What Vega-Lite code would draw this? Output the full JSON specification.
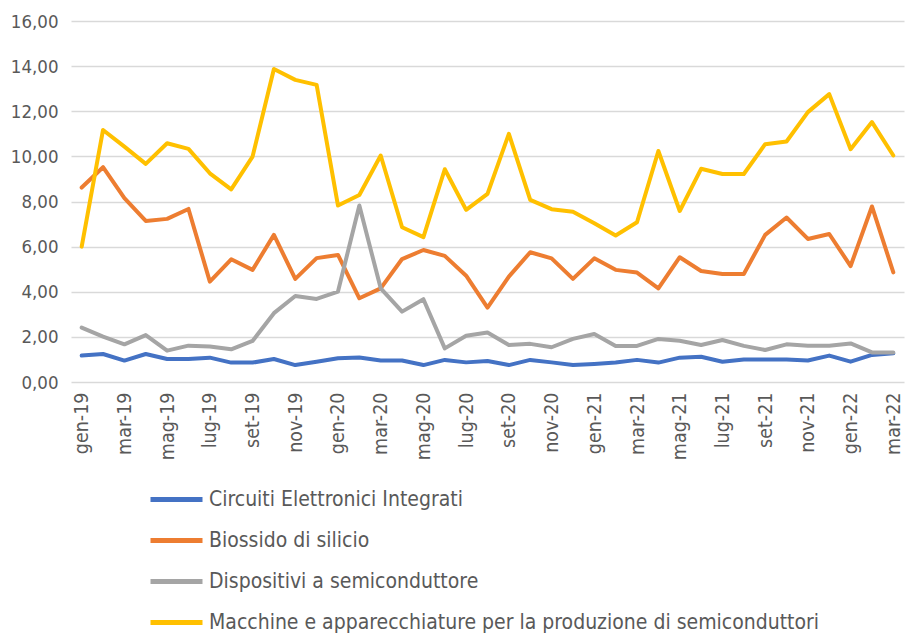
{
  "$schema": "https://vega.github.io/schema/vega-lite/v6.json",
  "width": 833,
  "height": 361,
  "autosize": "none",
  "padding": {"left": 71, "top": 21, "right": 3, "bottom": 251},
  "background": "white",
  "config": {
    "view": {"stroke": null},
    "font": "DejaVu Sans Condensed"
  },
  "data": {"values": [
    {"mese":"gen-19","serie":"Circuiti Elettronici Integrati","valore":1.17},
    {"mese":"feb-19","serie":"Circuiti Elettronici Integrati","valore":1.24},
    {"mese":"mar-19","serie":"Circuiti Elettronici Integrati","valore":0.95},
    {"mese":"apr-19","serie":"Circuiti Elettronici Integrati","valore":1.24},
    {"mese":"mag-19","serie":"Circuiti Elettronici Integrati","valore":1.02},
    {"mese":"giu-19","serie":"Circuiti Elettronici Integrati","valore":1.02},
    {"mese":"lug-19","serie":"Circuiti Elettronici Integrati","valore":1.08},
    {"mese":"ago-19","serie":"Circuiti Elettronici Integrati","valore":0.86},
    {"mese":"set-19","serie":"Circuiti Elettronici Integrati","valore":0.86},
    {"mese":"ott-19","serie":"Circuiti Elettronici Integrati","valore":1.02},
    {"mese":"nov-19","serie":"Circuiti Elettronici Integrati","valore":0.75},
    {"mese":"dic-19","serie":"Circuiti Elettronici Integrati","valore":0.90},
    {"mese":"gen-20","serie":"Circuiti Elettronici Integrati","valore":1.05},
    {"mese":"feb-20","serie":"Circuiti Elettronici Integrati","valore":1.09},
    {"mese":"mar-20","serie":"Circuiti Elettronici Integrati","valore":0.95},
    {"mese":"apr-20","serie":"Circuiti Elettronici Integrati","valore":0.95},
    {"mese":"mag-20","serie":"Circuiti Elettronici Integrati","valore":0.75},
    {"mese":"giu-20","serie":"Circuiti Elettronici Integrati","valore":0.98},
    {"mese":"lug-20","serie":"Circuiti Elettronici Integrati","valore":0.87},
    {"mese":"ago-20","serie":"Circuiti Elettronici Integrati","valore":0.93},
    {"mese":"set-20","serie":"Circuiti Elettronici Integrati","valore":0.75},
    {"mese":"ott-20","serie":"Circuiti Elettronici Integrati","valore":0.98},
    {"mese":"nov-20","serie":"Circuiti Elettronici Integrati","valore":0.87},
    {"mese":"dic-20","serie":"Circuiti Elettronici Integrati","valore":0.75},
    {"mese":"gen-21","serie":"Circuiti Elettronici Integrati","valore":0.80},
    {"mese":"feb-21","serie":"Circuiti Elettronici Integrati","valore":0.86},
    {"mese":"mar-21","serie":"Circuiti Elettronici Integrati","valore":0.98},
    {"mese":"apr-21","serie":"Circuiti Elettronici Integrati","valore":0.86},
    {"mese":"mag-21","serie":"Circuiti Elettronici Integrati","valore":1.08},
    {"mese":"giu-21","serie":"Circuiti Elettronici Integrati","valore":1.12},
    {"mese":"lug-21","serie":"Circuiti Elettronici Integrati","valore":0.90},
    {"mese":"ago-21","serie":"Circuiti Elettronici Integrati","valore":1.00},
    {"mese":"set-21","serie":"Circuiti Elettronici Integrati","valore":1.00},
    {"mese":"ott-21","serie":"Circuiti Elettronici Integrati","valore":1.00},
    {"mese":"nov-21","serie":"Circuiti Elettronici Integrati","valore":0.95},
    {"mese":"dic-21","serie":"Circuiti Elettronici Integrati","valore":1.17},
    {"mese":"gen-22","serie":"Circuiti Elettronici Integrati","valore":0.90},
    {"mese":"feb-22","serie":"Circuiti Elettronici Integrati","valore":1.20},
    {"mese":"mar-22","serie":"Circuiti Elettronici Integrati","valore":1.27},
    {"mese":"gen-19","serie":"Biossido di silicio","valore":8.62},
    {"mese":"feb-19","serie":"Biossido di silicio","valore":9.52},
    {"mese":"mar-19","serie":"Biossido di silicio","valore":8.15},
    {"mese":"apr-19","serie":"Biossido di silicio","valore":7.14},
    {"mese":"mag-19","serie":"Biossido di silicio","valore":7.23},
    {"mese":"giu-19","serie":"Biossido di silicio","valore":7.67},
    {"mese":"lug-19","serie":"Biossido di silicio","valore":4.45},
    {"mese":"ago-19","serie":"Biossido di silicio","valore":5.44},
    {"mese":"set-19","serie":"Biossido di silicio","valore":4.97},
    {"mese":"ott-19","serie":"Biossido di silicio","valore":6.52},
    {"mese":"nov-19","serie":"Biossido di silicio","valore":4.57},
    {"mese":"dic-19","serie":"Biossido di silicio","valore":5.49},
    {"mese":"gen-20","serie":"Biossido di silicio","valore":5.63},
    {"mese":"feb-20","serie":"Biossido di silicio","valore":3.71},
    {"mese":"mar-20","serie":"Biossido di silicio","valore":4.15},
    {"mese":"apr-20","serie":"Biossido di silicio","valore":5.45},
    {"mese":"mag-20","serie":"Biossido di silicio","valore":5.85},
    {"mese":"giu-20","serie":"Biossido di silicio","valore":5.59},
    {"mese":"lug-20","serie":"Biossido di silicio","valore":4.71},
    {"mese":"ago-20","serie":"Biossido di silicio","valore":3.30},
    {"mese":"set-20","serie":"Biossido di silicio","valore":4.67},
    {"mese":"ott-20","serie":"Biossido di silicio","valore":5.75},
    {"mese":"nov-20","serie":"Biossido di silicio","valore":5.48},
    {"mese":"dic-20","serie":"Biossido di silicio","valore":4.57},
    {"mese":"gen-21","serie":"Biossido di silicio","valore":5.48},
    {"mese":"feb-21","serie":"Biossido di silicio","valore":4.97},
    {"mese":"mar-21","serie":"Biossido di silicio","valore":4.85},
    {"mese":"apr-21","serie":"Biossido di silicio","valore":4.15},
    {"mese":"mag-21","serie":"Biossido di silicio","valore":5.53},
    {"mese":"giu-21","serie":"Biossido di silicio","valore":4.92},
    {"mese":"lug-21","serie":"Biossido di silicio","valore":4.79},
    {"mese":"ago-21","serie":"Biossido di silicio","valore":4.79},
    {"mese":"set-21","serie":"Biossido di silicio","valore":6.52},
    {"mese":"ott-21","serie":"Biossido di silicio","valore":7.29},
    {"mese":"nov-21","serie":"Biossido di silicio","valore":6.34},
    {"mese":"dic-21","serie":"Biossido di silicio","valore":6.56},
    {"mese":"gen-22","serie":"Biossido di silicio","valore":5.14},
    {"mese":"feb-22","serie":"Biossido di silicio","valore":7.78},
    {"mese":"mar-22","serie":"Biossido di silicio","valore":4.86},
    {"mese":"gen-19","serie":"Dispositivi a semiconduttore","valore":2.41},
    {"mese":"feb-19","serie":"Dispositivi a semiconduttore","valore":2.01},
    {"mese":"mar-19","serie":"Dispositivi a semiconduttore","valore":1.67},
    {"mese":"apr-19","serie":"Dispositivi a semiconduttore","valore":2.08},
    {"mese":"mag-19","serie":"Dispositivi a semiconduttore","valore":1.39},
    {"mese":"giu-19","serie":"Dispositivi a semiconduttore","valore":1.61},
    {"mese":"lug-19","serie":"Dispositivi a semiconduttore","valore":1.57},
    {"mese":"ago-19","serie":"Dispositivi a semiconduttore","valore":1.45},
    {"mese":"set-19","serie":"Dispositivi a semiconduttore","valore":1.82},
    {"mese":"ott-19","serie":"Dispositivi a semiconduttore","valore":3.05},
    {"mese":"nov-19","serie":"Dispositivi a semiconduttore","valore":3.81},
    {"mese":"dic-19","serie":"Dispositivi a semiconduttore","valore":3.68},
    {"mese":"gen-20","serie":"Dispositivi a semiconduttore","valore":4.01},
    {"mese":"feb-20","serie":"Dispositivi a semiconduttore","valore":7.82},
    {"mese":"mar-20","serie":"Dispositivi a semiconduttore","valore":4.15},
    {"mese":"apr-20","serie":"Dispositivi a semiconduttore","valore":3.12},
    {"mese":"mag-20","serie":"Dispositivi a semiconduttore","valore":3.67},
    {"mese":"giu-20","serie":"Dispositivi a semiconduttore","valore":1.49},
    {"mese":"lug-20","serie":"Dispositivi a semiconduttore","valore":2.05},
    {"mese":"ago-20","serie":"Dispositivi a semiconduttore","valore":2.19},
    {"mese":"set-20","serie":"Dispositivi a semiconduttore","valore":1.64},
    {"mese":"ott-20","serie":"Dispositivi a semiconduttore","valore":1.69},
    {"mese":"nov-20","serie":"Dispositivi a semiconduttore","valore":1.54},
    {"mese":"dic-20","serie":"Dispositivi a semiconduttore","valore":1.91},
    {"mese":"gen-21","serie":"Dispositivi a semiconduttore","valore":2.13},
    {"mese":"feb-21","serie":"Dispositivi a semiconduttore","valore":1.60},
    {"mese":"mar-21","serie":"Dispositivi a semiconduttore","valore":1.60},
    {"mese":"apr-21","serie":"Dispositivi a semiconduttore","valore":1.91},
    {"mese":"mag-21","serie":"Dispositivi a semiconduttore","valore":1.83},
    {"mese":"giu-21","serie":"Dispositivi a semiconduttore","valore":1.64},
    {"mese":"lug-21","serie":"Dispositivi a semiconduttore","valore":1.86},
    {"mese":"ago-21","serie":"Dispositivi a semiconduttore","valore":1.60},
    {"mese":"set-21","serie":"Dispositivi a semiconduttore","valore":1.42},
    {"mese":"ott-21","serie":"Dispositivi a semiconduttore","valore":1.67},
    {"mese":"nov-21","serie":"Dispositivi a semiconduttore","valore":1.61},
    {"mese":"dic-21","serie":"Dispositivi a semiconduttore","valore":1.61},
    {"mese":"gen-22","serie":"Dispositivi a semiconduttore","valore":1.71},
    {"mese":"feb-22","serie":"Dispositivi a semiconduttore","valore":1.31},
    {"mese":"mar-22","serie":"Dispositivi a semiconduttore","valore":1.31},
    {"mese":"gen-19","serie":"Macchine e apparecchiature per la produzione di semiconduttori","valore":6.00},
    {"mese":"feb-19","serie":"Macchine e apparecchiature per la produzione di semiconduttori","valore":11.17},
    {"mese":"mar-19","serie":"Macchine e apparecchiature per la produzione di semiconduttori","valore":10.43},
    {"mese":"apr-19","serie":"Macchine e apparecchiature per la produzione di semiconduttori","valore":9.67},
    {"mese":"mag-19","serie":"Macchine e apparecchiature per la produzione di semiconduttori","valore":10.58},
    {"mese":"giu-19","serie":"Macchine e apparecchiature per la produzione di semiconduttori","valore":10.33},
    {"mese":"lug-19","serie":"Macchine e apparecchiature per la produzione di semiconduttori","valore":9.25},
    {"mese":"ago-19","serie":"Macchine e apparecchiature per la produzione di semiconduttori","valore":8.54},
    {"mese":"set-19","serie":"Macchine e apparecchiature per la produzione di semiconduttori","valore":9.99},
    {"mese":"ott-19","serie":"Macchine e apparecchiature per la produzione di semiconduttori","valore":13.87},
    {"mese":"nov-19","serie":"Macchine e apparecchiature per la produzione di semiconduttori","valore":13.39},
    {"mese":"dic-19","serie":"Macchine e apparecchiature per la produzione di semiconduttori","valore":13.17},
    {"mese":"gen-20","serie":"Macchine e apparecchiature per la produzione di semiconduttori","valore":7.82},
    {"mese":"feb-20","serie":"Macchine e apparecchiature per la produzione di semiconduttori","valore":8.29},
    {"mese":"mar-20","serie":"Macchine e apparecchiature per la produzione di semiconduttori","valore":10.04},
    {"mese":"apr-20","serie":"Macchine e apparecchiature per la produzione di semiconduttori","valore":6.86},
    {"mese":"mag-20","serie":"Macchine e apparecchiature per la produzione di semiconduttori","valore":6.42},
    {"mese":"giu-20","serie":"Macchine e apparecchiature per la produzione di semiconduttori","valore":9.43},
    {"mese":"lug-20","serie":"Macchine e apparecchiature per la produzione di semiconduttori","valore":7.63},
    {"mese":"ago-20","serie":"Macchine e apparecchiature per la produzione di semiconduttori","valore":8.34},
    {"mese":"set-20","serie":"Macchine e apparecchiature per la produzione di semiconduttori","valore":11.00},
    {"mese":"ott-20","serie":"Macchine e apparecchiature per la produzione di semiconduttori","valore":8.07},
    {"mese":"nov-20","serie":"Macchine e apparecchiature per la produzione di semiconduttori","valore":7.66},
    {"mese":"dic-20","serie":"Macchine e apparecchiature per la produzione di semiconduttori","valore":7.55},
    {"mese":"gen-21","serie":"Macchine e apparecchiature per la produzione di semiconduttori","valore":7.04},
    {"mese":"feb-21","serie":"Macchine e apparecchiature per la produzione di semiconduttori","valore":6.49},
    {"mese":"mar-21","serie":"Macchine e apparecchiature per la produzione di semiconduttori","valore":7.08},
    {"mese":"apr-21","serie":"Macchine e apparecchiature per la produzione di semiconduttori","valore":10.24},
    {"mese":"mag-21","serie":"Macchine e apparecchiature per la produzione di semiconduttori","valore":7.58},
    {"mese":"giu-21","serie":"Macchine e apparecchiature per la produzione di semiconduttori","valore":9.45},
    {"mese":"lug-21","serie":"Macchine e apparecchiature per la produzione di semiconduttori","valore":9.22},
    {"mese":"ago-21","serie":"Macchine e apparecchiature per la produzione di semiconduttori","valore":9.22},
    {"mese":"set-21","serie":"Macchine e apparecchiature per la produzione di semiconduttori","valore":10.54},
    {"mese":"ott-21","serie":"Macchine e apparecchiature per la produzione di semiconduttori","valore":10.66},
    {"mese":"nov-21","serie":"Macchine e apparecchiature per la produzione di semiconduttori","valore":11.96},
    {"mese":"dic-21","serie":"Macchine e apparecchiature per la produzione di semiconduttori","valore":12.76},
    {"mese":"gen-22","serie":"Macchine e apparecchiature per la produzione di semiconduttori","valore":10.32},
    {"mese":"feb-22","serie":"Macchine e apparecchiature per la produzione di semiconduttori","valore":11.52},
    {"mese":"mar-22","serie":"Macchine e apparecchiature per la produzione di semiconduttori","valore":10.04}
  ]},
  "mark": {"type": "line", "strokeWidth": 4, "strokeJoin": "round", "strokeCap": "round"},
  "encoding": {
    "x": {
      "field": "mese", "type": "ordinal", "sort": null,
      "scale": {"type": "point", "padding": 0.5},
      "axis": {
        "title": null, "domain": false, "ticks": false,
        "labelAngle": -90, "labelPadding": 10,
        "labelFontSize": 19.5, "labelColor": "#595959",
        "labelFont": "DejaVu Sans Condensed",
        "values": ["gen-19","mar-19","mag-19","lug-19","set-19","nov-19","gen-20","mar-20","mag-20","lug-20","set-20","nov-20","gen-21","mar-21","mag-21","lug-21","set-21","nov-21","gen-22","mar-22"]
      }
    },
    "y": {
      "field": "valore", "type": "quantitative",
      "scale": {"domain": [0, 16], "nice": false},
      "axis": {
        "title": null, "domain": false, "ticks": false,
        "values": [0, 2, 4, 6, 8, 10, 12, 14, 16],
        "labelExpr": "replace(format(datum.value, '.2f'), '.', ',')",
        "labelFontSize": 18.5, "labelColor": "#595959", "labelPadding": 13,
        "labelFont": "DejaVu Sans Condensed",
        "gridColor": "#D9D9D9", "gridWidth": 1.3
      }
    },
    "color": {
      "field": "serie", "type": "nominal",
      "scale": {
        "domain": ["Circuiti Elettronici Integrati", "Biossido di silicio", "Dispositivi a semiconduttore", "Macchine e apparecchiature per la produzione di semiconduttori"],
        "range": ["#4472C4", "#ED7D31", "#A5A5A5", "#FFC000"]
      },
      "legend": {
        "title": null, "orient": "none", "direction": "vertical",
        "legendX": 77, "legendY": 450,
        "symbolType": "stroke", "symbolSize": 2704, "symbolStrokeWidth": 5,
        "labelFontSize": 21, "labelColor": "#595959", "labelFont": "DejaVu Sans Condensed",
        "labelOffset": 4, "rowPadding": 2, "labelLimit": 800
      }
    }
  }
}
